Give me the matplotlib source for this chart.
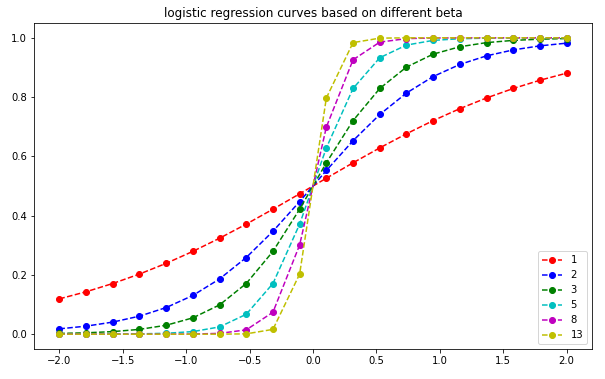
import matplotlib
matplotlib.use("Agg")
import matplotlib.pyplot as plt
import numpy as np

x = [-2.0, -1.7895, -1.5789, -1.3684, -1.1579, -0.9474, -0.7368, -0.5263, -0.3158, -0.1053,
     0.1053, 0.3158, 0.5263, 0.7368, 0.9474, 1.1579, 1.3684, 1.5789, 1.7895, 2.0]

upper_b1 = [0.5263, 0.5783, 0.6286, 0.6762, 0.7206, 0.7610, 0.7971, 0.8290, 0.8569, 0.8808]
upper_b2 = [0.5524, 0.6528, 0.7413, 0.8136, 0.8693, 0.9102, 0.9392, 0.9592, 0.9729, 0.9820]
upper_b3 = [0.5783, 0.7206, 0.8290, 0.9012, 0.9449, 0.9699, 0.9838, 0.9913, 0.9954, 0.9975]
upper_b5 = [0.6286, 0.8290, 0.9328, 0.9755, 0.9913, 0.9969, 0.9989, 0.9996, 0.9999, 1.0]
upper_b8 = [0.6989, 0.9259, 0.9854, 0.9973, 0.9995, 0.9999, 1.0, 1.0, 1.0, 1.0]
upper_b13 = [0.7971, 0.9838, 0.9989, 0.9999, 1.0, 1.0, 1.0, 1.0, 1.0, 1.0]

betas = ["1", "2", "3", "5", "8", "13"]
uppers = [upper_b1, upper_b2, upper_b3, upper_b5, upper_b8, upper_b13]
styles = ["r--o", "b--o", "g--o", "c--o", "m--o", "y--o"]

fig = plt.figure(figsize=(605 / 72, 379 / 72), dpi=72)
ax = fig.add_axes([34 / 605, (379 - 349) / 379, 558 / 605, 326 / 379])

for lab, up, st in zip(betas, uppers, styles):
    y = [round(1 - v, 4) for v in up[::-1]] + up
    ax.plot(x, y, st, label=lab)

ax.set_title("logistic regression curves based on different beta")
ax.legend(loc="lower right")
fig.savefig("out.png", dpi=72)
